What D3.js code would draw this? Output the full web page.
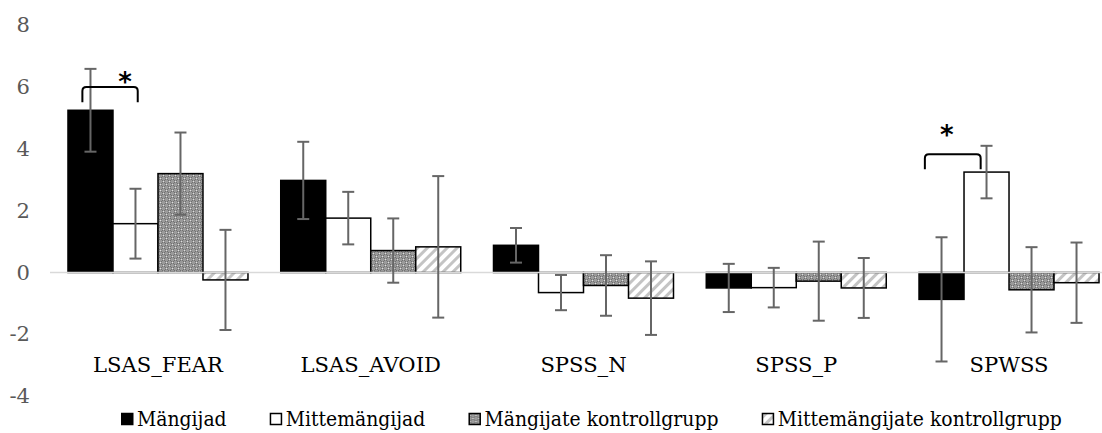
<!DOCTYPE html>
<html>
<head>
<meta charset="utf-8">
<script src="https://cdn.jsdelivr.net/npm/d3@7"></script>
<style>
  body { margin: 0; background: #fff; }
</style>
</head>
<body>
<div id="chart"></div>
<script>
const categories = ["LSAS_FEAR", "LSAS_AVOID", "SPSS_N", "SPSS_P", "SPWSS"];
const seriesNames = ["Mängijad", "Mittemängijad", "Mängijate kontrollgrupp", "Mittemängijate kontrollgrupp"];

// mean change per group, same order as categories
const players        = [5.25, 2.98, 0.88, -0.50, -0.87];
const nonPlayers     = [1.58, 1.76, -0.65, -0.49, 3.25];
const playersCtrl    = [3.20, 0.71, -0.42, -0.28, -0.56];
const nonPlayersCtrl = [-0.24, 0.83, -0.83, -0.50, -0.33];

// error bar half-lengths
const playersErr        = [1.34, 1.25, 0.56, 0.78, 2.01];
const nonPlayersErr     = [1.13, 0.85, 0.57, 0.64, 0.85];
const playersCtrlErr    = [1.33, 1.04, 0.98, 1.28, 1.38];
const nonPlayersCtrlErr = [1.62, 2.29, 1.19, 0.97, 1.30];

const yTicks = [-4, -2, 0, 2, 4, 6, 8];

// significance brackets: from/to/starX in bar widths from the group's start
const signif = [
    { cat: "LSAS_FEAR", from: 0.32, to: 1.55, top: 6.0, leg: 5.51, starX: 1.27, starY: 6.36 },
    { cat: "SPWSS", from: 0.13, to: 1.37, top: 3.83, leg: 3.34, starX: 0.62, starY: 4.63 }
];

const W = 1102, H = 433;

const svg = d3.select("#chart")
    .append("svg")
    .attr("width", W)
    .attr("height", H)
    .style("font-family", "'DejaVu Serif', serif");

// calibrate horizontal text stretch against the reference label width
const probe = svg.append("text").attr("font-size", 20).text("LSAS_FEAR");
const sx = 130 / probe.node().getComputedTextLength();
probe.remove();

const defs = svg.append("defs");

const dots = defs.append("pattern")
    .attr("id", "dots")
    .attr("patternUnits", "userSpaceOnUse")
    .attr("width", 6)
    .attr("height", 6);
dots.append("rect").attr("width", 6).attr("height", 6).attr("fill", "#9a9a9a");
dots.append("rect").attr("x", 0).attr("y", 0).attr("width", 3).attr("height", 3).attr("fill", "#666");
dots.append("rect").attr("x", 3).attr("y", 3).attr("width", 3).attr("height", 3).attr("fill", "#666");
dots.append("circle").attr("cx", 1.5).attr("cy", 1.5).attr("r", 1).attr("fill", "#e0e0e0");
dots.append("circle").attr("cx", 4.5).attr("cy", 4.5).attr("r", 1).attr("fill", "#e0e0e0");

const hatch = defs.append("pattern")
    .attr("id", "hatch")
    .attr("patternUnits", "userSpaceOnUse")
    .attr("width", 7)
    .attr("height", 7)
    .attr("patternTransform", "rotate(45)");
hatch.append("rect").attr("width", 7).attr("height", 7).attr("fill", "#fff");
hatch.append("rect").attr("x", 0).attr("width", 3).attr("height", 7).attr("fill", "#c4c4c4");

const fills = ["#000", "#fff", "url(#dots)", "url(#hatch)"];

const y = d3.scaleLinear()
    .domain([-4, 8])
    .range([396.1, 25.3]);

const x0 = d3.scaleBand()
    .domain(categories)
    .range([51.6, 1115.4])
    .paddingInner(0.154)
    .paddingOuter(0.077);

const x1 = d3.scaleBand()
    .domain(seriesNames)
    .range([0, x0.bandwidth()]);

const bw = x1.bandwidth();

const values = [players, nonPlayers, playersCtrl, nonPlayersCtrl];
const errors = [playersErr, nonPlayersErr, playersCtrlErr, nonPlayersCtrlErr];

const rows = [];
categories.forEach((c, i) => {
    seriesNames.forEach((s, j) => {
        rows.push({ cat: c, series: s, idx: j, value: values[j][i], err: errors[j][i] });
    });
});

// y axis labels
svg.append("g")
    .selectAll("text")
    .data(yTicks)
    .enter()
    .append("text")
    .attr("transform", d => `translate(30,${y(d)}) scale(${sx},1)`)
    .attr("dy", "0.35em")
    .attr("text-anchor", "end")
    .attr("font-size", 20)
    .attr("fill", "#595959")
    .text(d => d);

// bars
svg.append("g")
    .selectAll("rect")
    .data(rows)
    .enter()
    .append("rect")
    .attr("x", d => x0(d.cat) + x1(d.series))
    .attr("y", d => y(Math.max(0, d.value)))
    .attr("width", bw)
    .attr("height", d => Math.abs(y(d.value) - y(0)))
    .attr("fill", d => fills[d.idx])
    .attr("stroke", "#000")
    .attr("stroke-width", 1.5);

// zero line
svg.append("line")
    .attr("x1", 50)
    .attr("x2", W)
    .attr("y1", y(0))
    .attr("y2", y(0))
    .attr("stroke", "#d9d9d9")
    .attr("stroke-width", 1.5);

// error bars
const eb = svg.append("g")
    .attr("stroke", "#666")
    .attr("stroke-width", 2)
    .selectAll("g")
    .data(rows)
    .enter()
    .append("g")
    .attr("transform", d => `translate(${x0(d.cat) + x1(d.series) + bw / 2},0)`);

eb.append("line")
    .attr("y1", d => y(d.value + d.err))
    .attr("y2", d => y(d.value - d.err));
eb.append("line")
    .attr("x1", -6).attr("x2", 6)
    .attr("y1", d => y(d.value + d.err))
    .attr("y2", d => y(d.value + d.err));
eb.append("line")
    .attr("x1", -6).attr("x2", 6)
    .attr("y1", d => y(d.value - d.err))
    .attr("y2", d => y(d.value - d.err));

// category labels
svg.append("g")
    .selectAll("text")
    .data(categories)
    .enter()
    .append("text")
    .attr("transform", d => `translate(${x0(d) + x0.bandwidth() / 2},372) scale(${sx},1)`)
    .attr("text-anchor", "middle")
    .attr("font-size", 20)
    .attr("fill", "#000")
    .text(d => d);

// significance brackets
const sg = svg.append("g");
signif.forEach(s => {
    const xa = x0(s.cat) + s.from * bw;
    const xb = x0(s.cat) + s.to * bw;
    const yt = y(s.top), yl = y(s.leg), r = 4;
    sg.append("path")
        .attr("d", `M${xa},${yl} L${xa},${yt + r} Q${xa},${yt} ${xa + r},${yt} L${xb - r},${yt} Q${xb},${yt} ${xb},${yt + r} L${xb},${yl}`)
        .attr("fill", "none")
        .attr("stroke", "#000")
        .attr("stroke-width", 2);
    sg.append("text")
        .attr("x", x0(s.cat) + s.starX * bw)
        .attr("y", y(s.starY) + 15)
        .attr("text-anchor", "middle")
        .attr("font-family", "'DejaVu Sans', sans-serif")
        .attr("font-size", 26)
        .attr("font-weight", "bold")
        .text("*");
});

// legend: spread across the reference span, stretching the text to fit
const legendLeft = 121, legendRight = 1062, swatchGap = 16, itemGap = 43;
const legend = svg.append("g");
const items = legend.selectAll("g")
    .data(seriesNames)
    .enter()
    .append("g");
items.append("rect")
    .attr("x", 0.75)
    .attr("y", 413.5)
    .attr("width", 11)
    .attr("height", 11)
    .attr("fill", (d, j) => fills[j])
    .attr("stroke", "#000")
    .attr("stroke-width", 1.5);
const labels = items.append("text")
    .attr("font-size", 20)
    .attr("fill", "#000")
    .text(d => d);
const widths = labels.nodes().map(n => n.getComputedTextLength());
const lsx = (legendRight - legendLeft - seriesNames.length * swatchGap - (seriesNames.length - 1) * itemGap) / d3.sum(widths);
let lx = legendLeft;
items.each(function (d, j) {
    d3.select(this).attr("transform", `translate(${lx},0)`);
    d3.select(this).select("text").attr("transform", `translate(${swatchGap},426) scale(${lsx},1)`);
    lx += swatchGap + widths[j] * lsx + itemGap;
});
</script>
</body>
</html>
